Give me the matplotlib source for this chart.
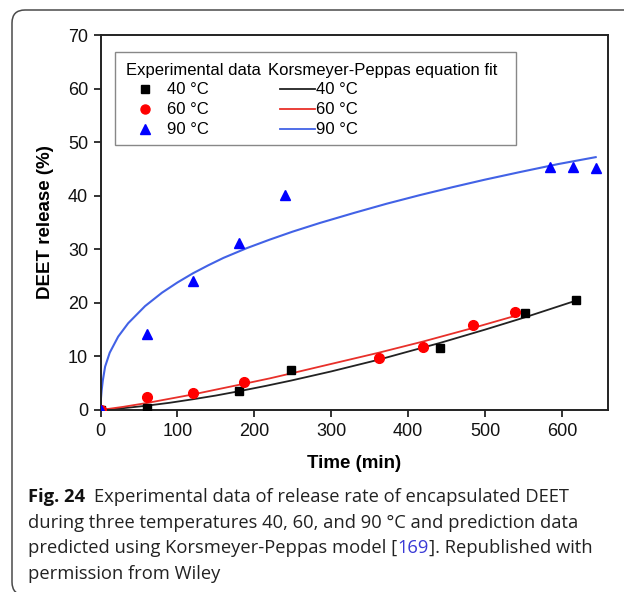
import matplotlib
matplotlib.use("Agg")
import matplotlib.pyplot as plt
from matplotlib.patches import FancyBboxPatch, Rectangle
from matplotlib.lines import Line2D
from matplotlib.transforms import IdentityTransform

# ---------------- data ----------------
t40 = [0, 60, 180, 248, 441, 552, 618]
y40 = [0, 0.3, 3.6, 7.4, 11.6, 18.2, 20.5]
t60 = [0, 60, 120, 187, 362, 419, 484, 539]
y60 = [0, 2.4, 3.1, 5.2, 9.8, 11.7, 15.9, 18.3]
t90 = [0, 60, 120, 180, 240, 584, 615, 645]
y90 = [0, 14.1, 24.1, 31.1, 40.1, 45.4, 45.4, 45.1]

fit40_t = [0, 30, 60, 90, 120, 150, 180, 215, 248, 300, 362, 400, 441, 500, 552, 618]
fit40_y = [0, 0.35, 0.8, 1.35, 2.0, 2.7, 3.5, 4.5, 5.5, 7.2, 9.4, 10.9, 12.5, 15.0, 17.3, 20.4]
fit60_t = [0, 30, 60, 90, 120, 150, 187, 220, 250, 300, 362, 420, 484, 540]
fit60_y = [0, 0.6, 1.3, 2.1, 2.9, 3.8, 4.9, 5.9, 6.9, 8.6, 10.7, 12.8, 15.3, 17.6]
fit90_t = [0, 0.5, 1.5, 3, 6, 12, 23, 36, 58, 80, 100, 120, 140, 160, 190, 220,
           250, 285, 330, 372, 415, 458, 500, 545, 595, 644]
fit90_y = [0, 2.0, 3.7, 5.5, 8.1, 10.7, 13.7, 16.2, 19.4, 21.9, 23.8, 25.5, 27.0,
           28.4, 30.2, 31.8, 33.3, 34.9, 36.8, 38.5, 40.1, 41.6, 43.0, 44.4, 45.9, 47.2]

x_ticks = [0, 100, 200, 300, 400, 500, 600]
y_ticks = [0, 10, 20, 30, 40, 50, 60, 70]
temp_labels = ["40 \u00b0C", "60 \u00b0C", "90 \u00b0C"]

W, H = 624, 592
fig = plt.figure(figsize=(W / 100, H / 100), dpi=100)
plt.rcParams['font.family'] = ['Liberation Sans', 'DejaVu Sans']

# outer rounded frame
frame = FancyBboxPatch((12, -3), 660, 585, boxstyle="round,pad=0,rounding_size=13",
                       transform=IdentityTransform(), fill=False, edgecolor="#4a4a4a",
                       linewidth=1.1)
fig.add_artist(frame)

ax_l, ax_r, ax_t, ax_b = 100.5, 608, 35, 410
ax = fig.add_axes([ax_l / W, 1 - ax_b / H, (ax_r - ax_l) / W, (ax_b - ax_t) / H])

c_blk, c_red, c_blu = "#000000", "#ff0000", "#0000ff"
l_blk, l_red, l_blu = "#222222", "#e8302a", "#4262e6"

ax.plot(fit40_t, fit40_y, color=l_blk, lw=1.3, zorder=2)
ax.plot(fit60_t, fit60_y, color=l_red, lw=1.3, zorder=2)
ax.plot(fit90_t, fit90_y, color=l_blu, lw=1.5, zorder=2)

ax.plot(t40, y40, 's', color=c_blk, ms=6.3, zorder=3)
ax.plot(t60, y60, 'o', color=c_red, ms=7, zorder=3)
ax.plot(t90, y90, '^', color=c_blu, ms=7.5, zorder=3)

ax.set_xlim(0, 660)
ax.set_ylim(0, 70)
ax.set_xticks(x_ticks)
ax.set_yticks(y_ticks)
ax.tick_params(axis='both', direction='out', length=5, width=1.2, labelsize=13,
               colors="#111111", pad=4)
ax.tick_params(top=False, right=False)
for s in ax.spines.values():
    s.set_linewidth(1.4)
    s.set_color("#222222")

ax.set_xlabel("Time (min)", fontsize=13.5, fontweight='bold', labelpad=11)
ax.set_ylabel("DEET release (%)", fontsize=13.5, fontweight='bold', labelpad=10)

# ---------------- legend (drawn in axes fraction) ----------------
aw, ah = ax_r - ax_l, ax_b - ax_t
fx = lambda px: (px - ax_l) / aw
fy = lambda py: (ax_b - py) / ah
ax.add_patch(Rectangle((fx(115), fy(144.5)), fx(516) - fx(115), fy(52.5) - fy(144.5),
                       transform=ax.transAxes, facecolor='white', edgecolor='#888888',
                       lw=1.0, zorder=4))
lfs = 12
ax.text(fx(126), fy(70), "Experimental data", transform=ax.transAxes, fontsize=lfs,
        va='center', ha='left', zorder=5)
ax.text(fx(268), fy(70), "Korsmeyer-Peppas equation fit", transform=ax.transAxes,
        fontsize=lfs, va='center', ha='left', zorder=5)
rows = [89, 109, 129]
mk = [('s', c_blk, 5.5), ('o', c_red, 6.5), ('^', c_blu, 7)]
lc = [l_blk, l_red, l_blu]
for i, r in enumerate(rows):
    m, c, s = mk[i]
    ax.add_line(Line2D([fx(145)], [fy(r)], marker=m, color=c, ms=s, ls='none',
                       transform=ax.transAxes, zorder=5))
    ax.text(fx(167), fy(r), temp_labels[i], transform=ax.transAxes, fontsize=lfs,
            va='center', ha='left', zorder=5)
    ax.add_line(Line2D([fx(280), fx(315)], [fy(r), fy(r)], color=lc[i], lw=1.3,
                       transform=ax.transAxes, zorder=5))
    ax.text(fx(316), fy(r), temp_labels[i], transform=ax.transAxes, fontsize=lfs,
            va='center', ha='left', zorder=5)

# ---------------- caption ----------------
cap_font = ['Open Sans', 'DejaVu Sans']
cfs = 13.2
renderer = fig.canvas.get_renderer()
x0 = 28 / W
b1 = 1 - 502 / H
t_fig = fig.text(x0, b1, "Fig. 24", fontsize=cfs, fontweight='bold', family=cap_font,
                 va='baseline', ha='left', color='#111111')
bb = t_fig.get_window_extent(renderer)
fig.text(bb.x1 / W + 9 / W, b1, "Experimental data of release rate of encapsulated DEET",
         fontsize=cfs, family=cap_font, va='baseline', ha='left', color='#222222')
fig.text(x0, 1 - 527.5 / H,
         "during three temperatures 40, 60, and 90 \u00b0C and prediction data",
         fontsize=cfs, family=cap_font, va='baseline', ha='left', color='#222222')
b3 = 1 - 553 / H
t3 = fig.text(x0, b3, "predicted using Korsmeyer-Peppas model [", fontsize=cfs,
              family=cap_font, va='baseline', ha='left', color='#222222')
bb3 = t3.get_window_extent(renderer)
t3b = fig.text(bb3.x1 / W, b3, "169", fontsize=cfs, family=cap_font, va='baseline',
               ha='left', color='#3a3ad6')
bb3b = t3b.get_window_extent(renderer)
fig.text(bb3b.x1 / W, b3, "]. Republished with", fontsize=cfs, family=cap_font,
         va='baseline', ha='left', color='#222222')
fig.text(x0, 1 - 579 / H, "permission from Wiley", fontsize=cfs, family=cap_font,
         va='baseline', ha='left', color='#222222')

fig.savefig("out.png", dpi=100)
